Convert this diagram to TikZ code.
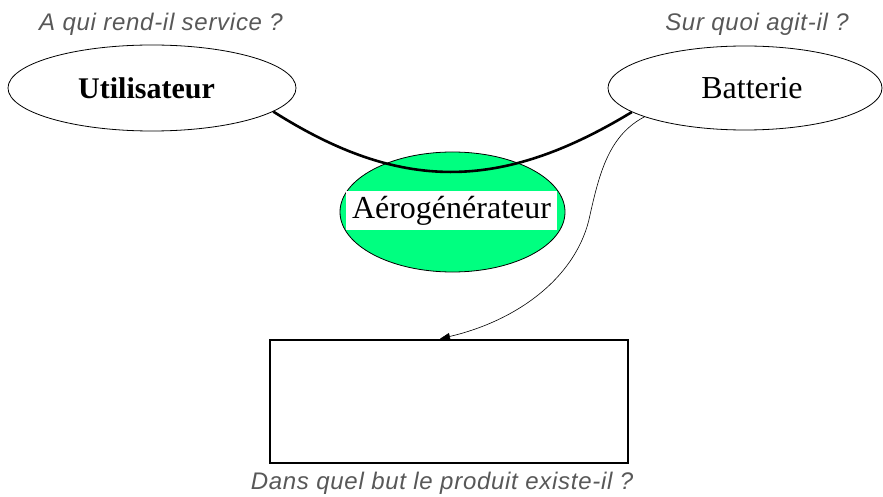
\documentclass[tikz,border=0pt]{standalone}
\usepackage{fontspec}
\setmainfont{Liberation Serif}
\newfontfamily\askfont[LetterSpace=3]{Liberation Sans}
\usetikzlibrary{arrows.meta, shapes.geometric}
\definecolor{cAero}{HTML}{00FF80}
\definecolor{cAsk}{HTML}{585858}

\begin{document}
\begin{tikzpicture}[x=1pt, y=-1pt,
    ell/.style={ellipse, draw=black, line width=0.8pt, inner sep=0pt,
                font=\fontsize{32}{36}\selectfont},
    ask/.style={font=\askfont\itshape\fontsize{24}{28}\selectfont,
                text=cAsk, anchor=base, inner sep=0pt},
    link/.style={line width=2.6pt},
    ar/.style={-{Triangle[length=10pt,width=7pt]}, line width=0.6pt},
]
\useasboundingbox (0,0) rectangle (883,497);

% === questions ===
\node[ask] (qserv) at (161,31) {A qui rend-il service ?};
\node[ask] (qagit) at (757,31) {Sur quoi agit-il ?};
\node[ask] (qbut) at (442,489) {Dans quel but le produit existe-il ?};

% === ellipses ===
\node[ell, minimum width=288, minimum height=86] (utl) at (152,88)
    {\fontsize{30}{34}\selectfont\bfseries Utilisateur\hspace*{11pt}};
\node[ell, minimum width=274, minimum height=84] (bat) at (745,88) {\hspace*{14pt}Batterie};

\node[ell, fill=cAero, minimum width=225, minimum height=120] (aero) at (452.5,212) {};
\node[fill=white, minimum width=211, minimum height=39, inner sep=0pt,
      font=\fontsize{32}{36}\selectfont] (aerolbl) at (451.5,210.5) {Aérogénérateur};

% === goal box ===
\node[draw=black, line width=2.5pt, minimum width=358, minimum height=123] (goal) at (449,401.5) {};

% === links ===
\draw[link] (utl.-11) .. controls (400,192) and (500,192) .. (bat.-168);
\draw[ar] (bat.-164) .. controls (610,135) and (600,170) .. (590,215)
    .. controls (578,275) and (520,320) .. ([xshift=-9pt]goal.north);

\end{tikzpicture}
\end{document}
